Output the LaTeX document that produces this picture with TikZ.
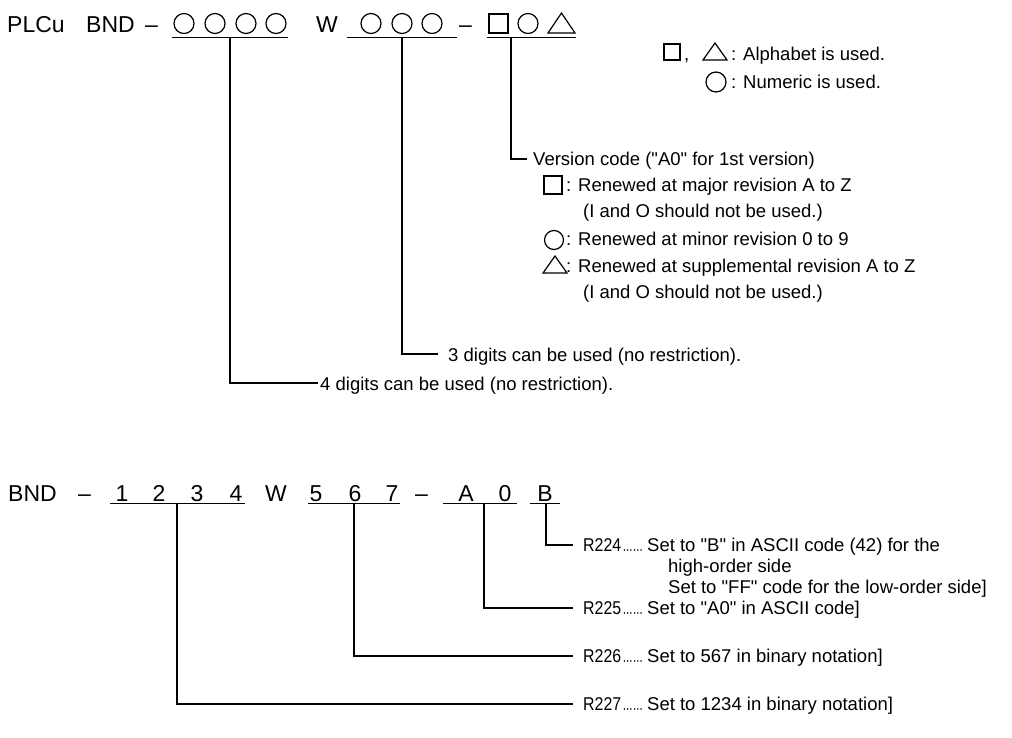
\documentclass[tikz,border=0pt]{standalone}
\usepackage{fontspec}
\newfontfamily\lib{Liberation Sans}
\usetikzlibrary{calc}
\begin{document}
\begin{tikzpicture}[x=1pt,y=-1pt,
  big/.style={font=\lib\fontsize{23}{27}\selectfont, inner sep=0pt, anchor=base west},
  bigc/.style={font=\lib\fontsize{23}{27}\selectfont, inner sep=0pt, anchor=base},
  txt/.style={font=\lib\fontsize{18.5}{22}\selectfont, inner sep=0pt, anchor=base west},
  ln/.style={line width=1.3pt},
  sym/.style={line width=1.2pt}]
\useasboundingbox (0,0) rectangle (1012,737);
% ---------- top row ----------
\node[big] (plcu) at (7,32) {PLCu};
\node[big] (bnd) at (86,32) {BND};
\node[big] (d1) at (145,32) {–};
\foreach \cx in {184,215,246,276} \draw[sym] (\cx,23.5) circle[radius=10];
\node[big] (w) at (316,32) {W};
\foreach \cx in {371,402,432} \draw[sym] (\cx,23.5) circle[radius=10];
\node[big] (d2) at (459,32) {–};
\draw[sym] (489,14) rectangle (508,33);
\draw[sym] (528,23.5) circle[radius=10];
\draw[sym] (548,33) -- (575,33) -- (561.5,13) -- cycle;
% underlines
\draw[ln] (172,37.5) -- (288,37.5) coordinate[pos=0.5] (u1);
\draw[ln] (347,37.5) -- (457,37.5) coordinate[pos=0.5] (u2);
\draw[ln] (487,37.5) -- (576,37.5) coordinate[pos=0.27] (u3);
% legend
\draw[sym] (664,44) rectangle (680,60);
\node[txt] (comma) at (684,60) {,};
\draw[sym] (703,60) -- (727,60) -- (715,43) -- cycle;
\node[txt] (alpha) at (731,60) {: Alphabet is used.};
\draw[sym] (716,82) circle[radius=10];
\node[txt] (num) at (731,88) {: Numeric is used.};
% version code
\node[txt] (ver) at (533,165) {Version code ("A0" for 1st version)};
\draw[ln] (u3) |- ([xshift=-6pt,yshift=6pt]ver.base west);
\draw[sym] (544,176) rectangle (562,194);
\node[txt] (v1) at (566,191) {: Renewed at major revision A to Z};
\node[txt] (v1b) at (583,217) {(I and O should not be used.)};
\draw[sym] (554,240) circle[radius=9.5];
\node[txt] (v2) at (566,245) {: Renewed at minor revision 0 to 9};
\draw[sym] (543,273) -- (567,273) -- (555,256) -- cycle;
\node[txt] (v3) at (566,272) {: Renewed at supplemental revision A to Z};
\node[txt] (v3b) at (583,298) {(I and O should not be used.)};
% digits notes
\node[txt] (three) at (448,361) {3 digits can be used (no restriction).};
\draw[ln] (u2) |- ([xshift=-10pt,yshift=7pt]three.base west);
\node[txt] (four) at (320,390) {4 digits can be used (no restriction).};
\draw[ln] (u1) |- ([xshift=-2pt,yshift=7pt]four.base west);
% ---------- bottom row ----------
\node[big] (bnd2) at (8,501) {BND};
\node[big] (d3) at (78,501) {–};
\node[bigc] (n1) at (122,501) {1};
\node[bigc] (n2) at (159,501) {2};
\node[bigc] (n3) at (197,501) {3};
\node[bigc] (n4) at (236,501) {4};
\node[bigc] (w2) at (276,501) {W};
\node[bigc] (n5) at (316,501) {5};
\node[bigc] (n6) at (355,501) {6};
\node[bigc] (n7) at (392,501) {7};
\node[big] (d4) at (415,501) {–};
\node[bigc] (na) at (466,501) {A};
\node[bigc] (n0) at (505,501) {0};
\node[bigc] (nb) at (545,501) {B};
\draw[ln] (110,503.5) -- (245,503.5) coordinate[pos=0.496] (b1);
\draw[ln] (308,503.5) -- (400,503.5) coordinate[pos=0.5] (b2);
\draw[ln] (443,503.5) -- (517,503.5) coordinate[pos=0.554] (b3);
\draw[ln] (530,503.5) -- (560,503.5) coordinate[pos=0.533] (b4);
% register texts
\tikzset{reg/.style={txt}, dots/.style={txt}}
\node[reg] (r224) at (583,551) {\scalebox{0.86}[1]{R224}};
\node[dots] (e224) at (622.5,551) {\scalebox{0.55}[1]{……}};
\node[txt] (s224) at (647,551) {Set to "B" in ASCII code (42) for the};
\node[txt] (s224b) at (668,572) {high-order side};
\node[txt] (s224c) at (668,593) {Set to "FF" code for the low-order side]};
\node[reg] (r225) at (583,614) {\scalebox{0.86}[1]{R225}};
\node[dots] (e225) at (622.5,614) {\scalebox{0.55}[1]{……}};
\node[txt] (s225) at (647,614) {Set to "A0" in ASCII code]};
\node[reg] (r226) at (583,662) {\scalebox{0.86}[1]{R226}};
\node[dots] (e226) at (622.5,662) {\scalebox{0.55}[1]{……}};
\node[txt] (s226) at (647,662) {Set to 567 in binary notation]};
\node[reg] (r227) at (583,710) {\scalebox{0.86}[1]{R227}};
\node[dots] (e227) at (622.5,710) {\scalebox{0.55}[1]{……}};
\node[txt] (s227) at (647,710) {Set to 1234 in binary notation]};
\draw[ln] (b4) |- ([xshift=-10pt,yshift=6pt]r224.base west);
\draw[ln] (b3) |- ([xshift=-10pt,yshift=6pt]r225.base west);
\draw[ln] (b2) |- ([xshift=-10pt,yshift=6pt]r226.base west);
\draw[ln] (b1) |- ([xshift=-10pt,yshift=6pt]r227.base west);
\end{tikzpicture}
\end{document}
